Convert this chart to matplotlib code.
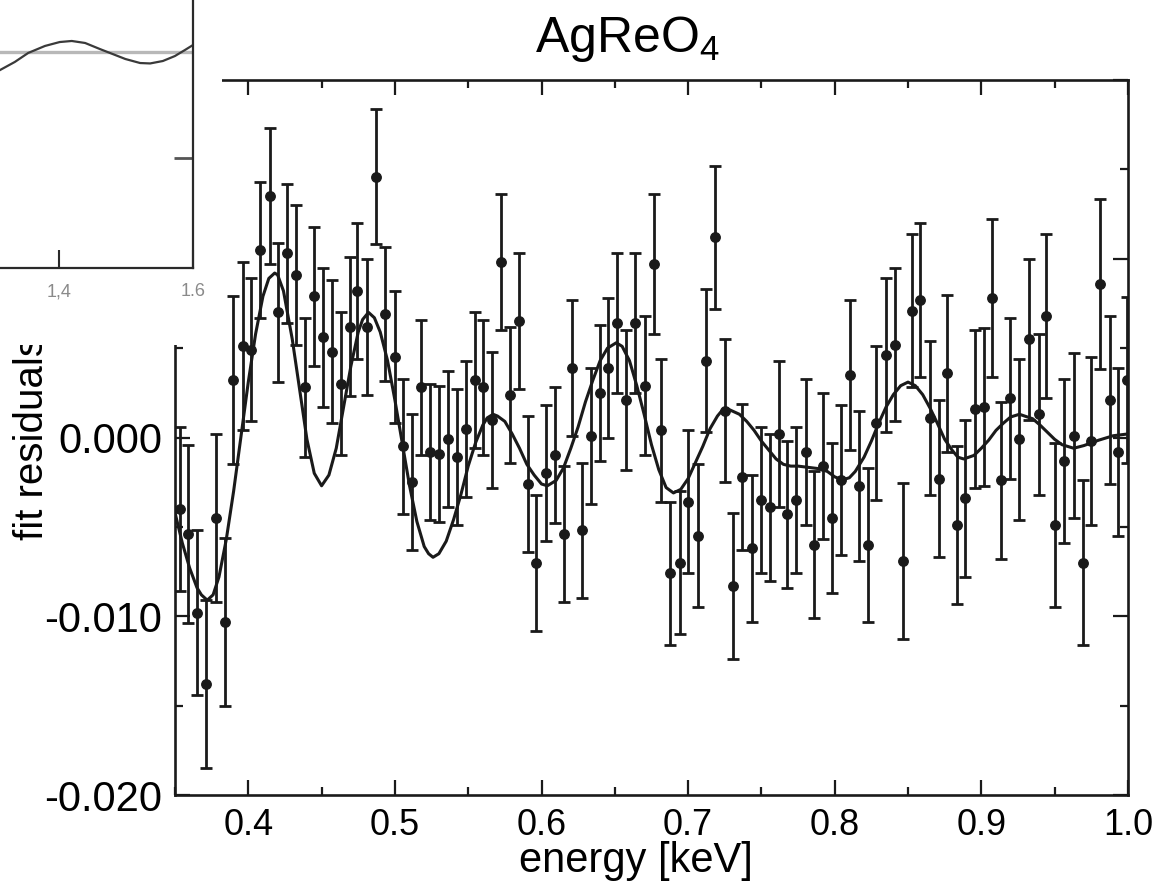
import numpy as np
import matplotlib
matplotlib.use('Agg')
import matplotlib.pyplot as plt
from matplotlib.patches import Rectangle
from matplotlib.ticker import MultipleLocator, FormatStrFormatter

plt.rcParams['font.family'] = ['Liberation Sans', 'DejaVu Sans']
plt.rcParams['mathtext.default'] = 'regular'

# measured residuals (energy in keV, residual and error in units of 1e-3)
energy = [0.3534, 0.3589, 0.3650, 0.3711, 0.3779, 0.3841, 0.3895, 0.3964, 0.4018, 0.4079,
          0.4148, 0.4202, 0.4263, 0.4325, 0.4386, 0.4448, 0.4509, 0.4570, 0.4632, 0.4693,
          0.4741, 0.4809, 0.4870, 0.4931, 0.5000, 0.5054, 0.5116, 0.5177, 0.5238, 0.5300,
          0.5361, 0.5422, 0.5484, 0.5545, 0.5600, 0.5661, 0.5722, 0.5784, 0.5845, 0.5906,
          0.5961, 0.6029, 0.6090, 0.6152, 0.6206, 0.6274, 0.6336, 0.6397, 0.6452, 0.6513,
          0.6574, 0.6636, 0.6704, 0.6765, 0.6813, 0.6874, 0.6942, 0.6997, 0.7065, 0.7120,
          0.7181, 0.7249, 0.7304, 0.7365, 0.7433, 0.7495, 0.7556, 0.7617, 0.7672, 0.7733,
          0.7801, 0.7856, 0.7917, 0.7979, 0.8040, 0.8101, 0.8163, 0.8224, 0.8285, 0.8347,
          0.8408, 0.8469, 0.8524, 0.8585, 0.8647, 0.8708, 0.8769, 0.8831, 0.8892, 0.8960,
          0.9015, 0.9076, 0.9137, 0.9199, 0.9260, 0.9328, 0.9390, 0.9444, 0.9505, 0.9567,
          0.9635, 0.9696, 0.9751, 0.9812, 0.9880, 0.9935, 0.9996]

resid = [-4.0, -5.4, -9.8, -13.8, -4.5, -10.3, 3.2, 5.1, 4.9, 10.5,
         13.5, 7.0, 10.3, 9.1, 2.8, 7.9, 5.6, 4.8, 3.0, 6.2,
         8.2, 6.2, 14.6, 6.9, 4.5, -0.5, -2.5, 2.8, -0.8, -0.9,
         -0.1, -1.1, 0.5, 3.2, 2.8, 1.0, 9.8, 2.4, 6.5, -2.6,
         -7.0, -2.0, -1.0, -5.4, 3.9, -5.2, 0.1, 2.5, 3.9, 6.4,
         2.1, 6.4, 2.9, 9.7, 0.4, -7.6, -7.0, -3.6, -5.5, 4.3,
         11.2, 1.5, -8.3, -2.2, -6.2, -3.5, -3.9, 0.2, -4.3, -3.5,
         -0.8, -6.0, -1.6, -4.5, -2.4, 3.5, -2.7, -6.0, 0.8, 4.6,
         5.2, -6.9, 7.1, 7.7, 1.1, -2.3, 3.6, -4.9, -3.4, 1.6,
         1.7, 7.8, -2.4, 2.2, -0.1, 5.5, 1.3, 6.8, -4.9, -1.3,
         0.1, -7.0, -0.2, 8.6, 2.1, -0.8, 3.2]

err = [4.6, 5.0, 4.6, 4.7, 4.7, 4.7, 4.7, 4.7, 4.0, 3.8,
       3.8, 3.9, 3.9, 3.9, 3.9, 3.9, 3.9, 4.0, 4.0, 3.9,
       3.8, 3.8, 3.75, 3.75, 3.7, 3.8, 3.8, 3.8, 3.8, 3.8,
       3.8, 3.8, 3.8, 3.8, 3.8, 3.8, 3.8, 3.8, 3.8, 3.8,
       3.8, 3.8, 3.8, 3.8, 3.8, 3.8, 3.8, 3.8, 3.9, 3.9,
       3.9, 3.9, 3.9, 3.9, 4.0, 4.0, 4.0, 4.0, 4.0, 4.0,
       4.0, 4.0, 4.1, 4.1, 4.1, 4.1, 4.1, 4.1, 4.1, 4.1,
       4.1, 4.1, 4.1, 4.2, 4.2, 4.2, 4.2, 4.3, 4.3, 4.3,
       4.3, 4.35, 4.3, 4.3, 4.3, 4.4, 4.4, 4.4, 4.4, 4.4,
       4.4, 4.4, 4.4, 4.5, 4.5, 4.5, 4.5, 4.6, 4.6, 4.6,
       4.6, 4.6, 4.7, 4.75, 4.7, 4.7, 4.65]

# fitted oscillation (units of 1e-3)
fit_energy = [0.350, 0.355, 0.360, 0.365, 0.368, 0.372, 0.376, 0.380, 0.385, 0.390,
              0.395, 0.400, 0.405, 0.410, 0.414, 0.418, 0.420, 0.424, 0.430, 0.435,
              0.440, 0.445, 0.450, 0.455, 0.460, 0.465, 0.470, 0.475, 0.478, 0.482,
              0.486, 0.490, 0.495, 0.500, 0.505, 0.510, 0.515, 0.520, 0.523, 0.526,
              0.530, 0.535, 0.540, 0.545, 0.550, 0.555, 0.560, 0.563, 0.567, 0.570,
              0.575, 0.580, 0.585, 0.590, 0.595, 0.600, 0.604, 0.610, 0.615, 0.620,
              0.625, 0.630, 0.635, 0.640, 0.645, 0.651, 0.655, 0.660, 0.665, 0.670,
              0.675, 0.680, 0.685, 0.690, 0.695, 0.700, 0.705, 0.710, 0.715, 0.720,
              0.723, 0.727, 0.735, 0.740, 0.745, 0.750, 0.755, 0.760, 0.765, 0.770,
              0.775, 0.780, 0.785, 0.790, 0.795, 0.800, 0.803, 0.806, 0.810, 0.814,
              0.820, 0.825, 0.830, 0.835, 0.840, 0.845, 0.850, 0.855, 0.860, 0.865,
              0.870, 0.875, 0.880, 0.884, 0.888, 0.895, 0.900, 0.905, 0.910, 0.915,
              0.920, 0.926, 0.935, 0.940, 0.945, 0.950, 0.955, 0.963, 0.970, 0.980,
              0.990, 1.000]
fit_resid = [-4.2, -5.9, -7.3, -8.4, -8.8, -9.1, -8.8, -7.8, -5.7, -3.0,
             0.05, 3.1, 5.8, 7.9, 8.9, 9.2, 9.1, 8.2, 5.5, 2.7,
             -0.1, -2.0, -2.7, -2.1, -0.6, 1.7, 4.0, 5.9, 6.6, 7.0,
             6.7, 5.9, 4.3, 2.1, -0.3, -2.7, -4.7, -6.1, -6.5, -6.7,
             -6.5, -5.8, -4.6, -3.2, -1.6, -0.3, 0.7, 1.1, 1.3, 1.2,
             0.9, 0.2, -0.6, -1.5, -2.1, -2.6, -2.7, -2.4, -1.7, -0.6,
             0.6, 2.0, 3.2, 4.3, 5.0, 5.3, 5.1, 4.3, 2.9, 1.3,
             -0.4, -1.8, -2.8, -3.1, -2.9, -2.3, -1.4, -0.5, 0.5, 1.2,
             1.5, 1.6, 1.3, 0.9, 0.4, -0.2, -0.7, -1.2, -1.5, -1.6,
             -1.6, -1.65, -1.7, -1.75, -1.9, -2.2, -2.3, -2.35, -2.25, -1.9,
             -1.1, -0.2, 0.8, 1.7, 2.4, 2.9, 3.1, 2.9, 2.4, 1.65,
             0.8, -0.1, -0.7, -1.1, -1.2, -1.0, -0.6, -0.15, 0.4, 0.8,
             1.15, 1.3, 1.05, 0.7, 0.3, -0.1, -0.4, -0.6, -0.45, -0.15,
             0.1, 0.2]

# corner of the neighbouring panel that overlaps the figure
inset_x = [1.312, 1.334, 1.354, 1.379, 1.401, 1.419, 1.439, 1.461, 1.476, 1.499,
           1.521, 1.536, 1.555, 1.573, 1.588, 1.600]
inset_y = [-0.17, -0.094, -0.009, 0.057, 0.094, 0.104, 0.085, 0.028, -0.009, -0.066,
           -0.104, -0.108, -0.085, -0.038, 0.019, 0.066]

ink = '#1a1a1a'

fig = plt.figure(figsize=(11.72, 8.82), dpi=100)
ax = fig.add_axes([0.1493, 0.0986, 0.8131, 0.8107])

ax.errorbar(energy, np.array(resid) * 1e-3, yerr=np.array(err) * 1e-3, fmt='o',
            color=ink, ms=6.8, elinewidth=2.0, capsize=4.5, capthick=2.0)
ax.plot(fit_energy, np.array(fit_resid) * 1e-3, color=ink, lw=2.2)

ax.set_xlim(0.35, 1.0)
ax.set_ylim(-0.02, 0.02)
ax.xaxis.set_major_locator(MultipleLocator(0.1))
ax.xaxis.set_minor_locator(MultipleLocator(0.05))
ax.yaxis.set_major_locator(MultipleLocator(0.01))
ax.yaxis.set_minor_locator(MultipleLocator(0.005))
ax.xaxis.set_major_formatter(FormatStrFormatter('%.1f'))
ax.yaxis.set_major_formatter(FormatStrFormatter('%.3f'))
ax.tick_params(which='both', direction='in', top=True, right=True, width=1.6, color=ink)
ax.tick_params(which='major', length=11)
ax.tick_params(which='minor', length=6)
ax.tick_params(axis='x', labelsize=26, pad=9.5)
ax.tick_params(axis='y', labelsize=30, pad=9)
for s in ax.spines.values():
    s.set_linewidth(1.9)
    s.set_color(ink)

ax.set_xlabel('energy [keV]', fontsize=30, labelpad=-1.5, x=0.484)
ax.set_ylabel('fit residuals', fontsize=29, labelpad=-5)
fig.text(0.535, 0.941, 'AgReO$_4$', ha='center', va='baseline', fontsize=36)

# white patch of the pasted neighbour panel
fig.add_artist(Rectangle((0, 1 - 345 / 882), 222 / 1172, 345 / 882, transform=fig.transFigure,
                         facecolor='white', edgecolor='none', zorder=5))

axin = fig.add_axes([-0.2, 0.69615, 0.36468, 0.5])
axin.set_zorder(10)
axin.axhline(0, color='#b8b8b8', lw=2.4)
axin.plot(inset_x, inset_y, color='#3a3a3a', lw=1.6)
axin.set_xlim(0.962, 1.6)
axin.set_ylim(-2.038, 2.123)
axin.spines['top'].set_visible(False)
axin.spines['left'].set_visible(False)
for side in ['right', 'bottom']:
    axin.spines[side].set_linewidth(1.6)
    axin.spines[side].set_color('#2a2a2a')
axin.set_xticks([1.4, 1.6])
axin.set_xticklabels(['1,4', '1.6'])
axin.set_yticks([-1])
axin.tick_params(axis='x', direction='in', length=13, width=1.5, color='#2a2a2a',
                 labelsize=13, labelcolor='#8a8a8a', pad=11)
axin.tick_params(axis='y', direction='in', left=False, right=True, labelleft=False,
                 length=14, width=2, color='#555555')

fig.savefig('out.png', dpi=100)
